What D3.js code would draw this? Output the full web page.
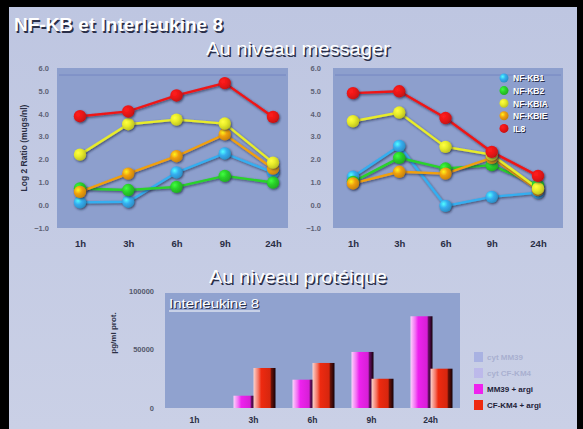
<!DOCTYPE html>
<html>
<head>
<meta charset="utf-8">
<script src="https://cdn.jsdelivr.net/npm/d3@7"></script>
<style>
  html, body { margin: 0; padding: 0; background: #000; }
  svg { display: block; }
  text { font-family: "Liberation Sans", Arial, sans-serif; }
</style>
</head>
<body>
<svg id="chart" width="583" height="429"></svg>
<script>
// ---- data ----
const hours = ["1h", "3h", "6h", "9h", "24h"];
const geneNames = ["NF-KB1", "NF-KB2", "NF-KBIA", "NF-KBIE", "IL8"];
const geneColors = ["#35aef0", "#2ad22a", "#e8ec2a", "#f0a010", "#ee1515"];
const logTicks = [-1, 0, 1, 2, 3, 4, 5, 6];

// left panel (log2 ratio)
const leftNFKB1  = [0.12, 0.15, 1.43, 2.26, 1.43];
const leftNFKB2  = [0.73, 0.66, 0.80, 1.28, 0.99];
const leftNFKBIA = [2.21, 3.54, 3.74, 3.57, 1.86];
const leftNFKBIE = [0.58, 1.38, 2.14, 3.10, 1.60];
const leftIL8    = [3.89, 4.10, 4.80, 5.34, 3.86];

// right panel (log2 ratio)
const rightNFKB1  = [1.24, 2.59, -0.03, 0.36, 0.55];
const rightNFKB2  = [1.02, 2.07, 1.60, 1.75, 0.87];
const rightNFKBIA = [3.67, 4.05, 2.55, 2.21, 0.73];
const rightNFKBIE = [0.95, 1.46, 1.38, 2.07, 0.66];
const rightIL8    = [4.90, 4.98, 3.81, 2.33, 1.28];

// protein level (pg/ml)
const barSeries = ["cyt MM39", "cyt CF-KM4", "MM39 + argi", "CF-KM4 + argi"];
const barColors = ["#8f9ae0", "#b3a8ee", "#ee22ee", "#ee2a10"];
const cytMM39   = [0, 0, 0, 0, 0];
const cytCFKM4  = [0, 0, 0, 0, 0];
const mm39Argi  = [0, 10500, 24200, 47900, 78400];
const cfkm4Argi = [0, 34200, 38500, 25000, 33600];
const proteinTicks = [0, 50000, 100000];

// ---- drawing ----
const svg = d3.select("#chart");
const defs = svg.append("defs");

// slide frame and background
svg.append("rect").attr("width", 583).attr("height", 429).attr("fill", "#000");
const bgGrad = defs.append("linearGradient").attr("id", "slideBg")
  .attr("x1", 0).attr("y1", 0).attr("x2", 0).attr("y2", 1);
bgGrad.append("stop").attr("offset", 0).attr("stop-color", "#bec6e1");
bgGrad.append("stop").attr("offset", 1).attr("stop-color", "#cad0e6");
svg.append("rect").attr("x", 9).attr("y", 7).attr("width", 568).attr("height", 422)
  .attr("fill", "url(#slideBg)");

// drop shadow for markers and lines
const shadow = defs.append("filter").attr("id", "shadow")
  .attr("x", "-50%").attr("y", "-50%").attr("width", "200%").attr("height", "200%");
shadow.append("feDropShadow").attr("dx", 1).attr("dy", 1.2).attr("stdDeviation", 0.8)
  .attr("flood-color", "#1a2040").attr("flood-opacity", 0.7);

// glossy marker gradients
geneColors.forEach((c, i) => {
  const g = defs.append("radialGradient").attr("id", "mk" + i)
    .attr("cx", "35%").attr("cy", "35%").attr("r", "70%");
  g.append("stop").attr("offset", 0).attr("stop-color", d3.color(c).brighter(1.2));
  g.append("stop").attr("offset", 0.45).attr("stop-color", c);
  g.append("stop").attr("offset", 1).attr("stop-color", d3.color(c).darker(0.6));
});

// white text with a dark drop shade
function shadedText(sel, x, y, str, opts) {
  const g = sel.append("g");
  const off = opts.off || 1.5;
  [["#2a2f48", off], ["#ffffff", 0]].forEach(([fill, o]) => {
    const t = g.append("text").attr("x", x + o).attr("y", y + o)
      .attr("fill", fill).attr("font-size", opts.size)
      .attr("font-weight", opts.weight || "bold")
      .attr("text-anchor", opts.anchor || "start").text(str);
    if (opts.len) t.attr("textLength", opts.len).attr("lengthAdjust", "spacingAndGlyphs");
  });
  return g;
}

shadedText(svg, 14, 31, "NF-KB et Interleukine 8", { size: 18, len: 209 });
shadedText(svg, 298, 55, "Au niveau messager", { size: 18, weight: "normal", anchor: "middle", len: 184 });
shadedText(svg, 298, 283, "Au niveau protéique", { size: 18, weight: "normal", anchor: "middle", len: 178 });

// line panels
function linePanel(cfg) {
  const y = d3.scaleLinear().domain([-1, 6]).range([228, 68]);
  const x = d3.scalePoint().domain(hours).range(cfg.xRange);

  svg.append("rect").attr("x", cfg.plot[0]).attr("y", 68)
    .attr("width", cfg.plot[1] - cfg.plot[0]).attr("height", 160)
    .attr("fill", "#8d9fcd");
  svg.append("line").attr("x1", cfg.plot[0] + 2).attr("x2", cfg.plot[1] - 2)
    .attr("y1", 75).attr("y2", 75).attr("stroke", "#7586c2").attr("stroke-width", 1);

  const yAxis = svg.append("g").attr("transform", `translate(${cfg.tickX},0)`)
    .call(d3.axisLeft(y).tickValues(logTicks).tickFormat(d3.format(".1f")).tickSize(0).tickPadding(0));
  yAxis.select(".domain").remove();
  yAxis.selectAll("text").attr("fill", "#5e6275").attr("font-size", 7.5)
    .attr("font-weight", "bold").style("font-family", "Liberation Sans, Arial");

  const xAxis = svg.append("g").attr("transform", "translate(0,240)")
    .call(d3.axisBottom(x).tickSize(0).tickPadding(0));
  xAxis.select(".domain").remove();
  xAxis.selectAll("text").attr("fill", "#2a2e44").attr("font-size", 9.5)
    .attr("font-weight", "bold").attr("dy", "0.71em")
    .style("font-family", "Liberation Sans, Arial");

  const line = d3.line().x((d, i) => x(hours[i])).y(d => y(d));
  const order = [0, 1, 3, 2, 4];
  order.forEach(k => {
    svg.append("path").datum(cfg.series[k]).attr("d", line).attr("fill", "none")
      .attr("stroke", geneColors[k]).attr("stroke-width", 2.4)
      .attr("filter", "url(#shadow)");
  });
  order.forEach(k => {
    svg.append("g").selectAll("circle").data(cfg.series[k]).join("circle")
      .attr("cx", (d, i) => x(hours[i])).attr("cy", d => y(d)).attr("r", 6.2)
      .attr("fill", `url(#mk${k})`).attr("filter", "url(#shadow)");
  });
}

linePanel({
  plot: [57, 288], xRange: [80, 273], tickX: 49,
  series: [leftNFKB1, leftNFKB2, leftNFKBIA, leftNFKBIE, leftIL8]
});
linePanel({
  plot: [333, 563], xRange: [353, 538], tickX: 321,
  series: [rightNFKB1, rightNFKB2, rightNFKBIA, rightNFKBIE, rightIL8]
});

// axis title of the left panel
svg.append("text").attr("transform", "translate(27,148) rotate(-90)")
  .attr("text-anchor", "middle").attr("font-size", 8.5).attr("font-weight", "bold")
  .attr("fill", "#2a2e44").text("Log 2 Ratio (mugs/nl)");

// legend of the line panels
geneNames.forEach((n, i) => {
  const yy = 78 + i * 12.6;
  svg.append("circle").attr("cx", 504).attr("cy", yy).attr("r", 4.5)
    .attr("fill", `url(#mk${i})`);
  shadedText(svg, 513, yy + 3.3, n, { size: 8.5, off: 1 });
});

// ---- protein bar chart ----
const barData = [cytMM39, cytCFKM4, mm39Argi, cfkm4Argi];
const xb = d3.scaleBand().domain(hours).range([165, 460]).padding(0);
const xs = d3.scaleBand().domain(barSeries).range([-60, 20]);
const yb = d3.scaleLinear().domain([0, 100000]).range([408, 291]);

svg.append("rect").attr("x", 165).attr("y", 293).attr("width", 295).attr("height", 115)
  .attr("fill", "#90a2cf");

barColors.forEach((c, i) => {
  const g = defs.append("linearGradient").attr("id", "bar" + i)
    .attr("x1", 0).attr("y1", 0).attr("x2", 1).attr("y2", 0);
  const base = d3.color(c);
  g.append("stop").attr("offset", 0).attr("stop-color", d3.interpolateRgb(c, "#fff")(0.8));
  g.append("stop").attr("offset", 0.22).attr("stop-color", d3.interpolateRgb(c, "#fff")(0.35));
  g.append("stop").attr("offset", 0.35).attr("stop-color", base);
  g.append("stop").attr("offset", 0.76).attr("stop-color", base.darker(0.3));
  g.append("stop").attr("offset", 0.8).attr("stop-color", base.darker(2.2));
  g.append("stop").attr("offset", 1).attr("stop-color", "#150008");
});

barData.forEach((vals, s) => {
  svg.append("g").selectAll("rect").data(vals).join("rect")
    .attr("x", (d, i) => xb(hours[i]) + xb.bandwidth() / 2 + xs(barSeries[s]))
    .attr("y", d => yb(d))
    .attr("width", xs.bandwidth() + 2)
    .attr("height", d => yb(0) - yb(d))
    .attr("fill", `url(#bar${s})`);
});

const ybAxis = svg.append("g").attr("transform", "translate(154,0)")
  .call(d3.axisLeft(yb).tickValues(proteinTicks).tickFormat(d3.format("d")).tickSize(0).tickPadding(0));
ybAxis.select(".domain").remove();
ybAxis.selectAll("text").attr("fill", "#55596c").attr("font-size", 7.5)
  .attr("font-weight", "bold").style("font-family", "Liberation Sans, Arial");

const xbAxis = svg.append("g").attr("transform", "translate(0,417)")
  .call(d3.axisBottom(xb).tickSize(0).tickPadding(0));
xbAxis.select(".domain").remove();
xbAxis.selectAll("text").attr("fill", "#2a2e44").attr("font-size", 8.5)
  .attr("font-weight", "bold").attr("dy", "0.71em")
  .style("font-family", "Liberation Sans, Arial");

svg.append("text").attr("transform", "translate(116,333) rotate(-90)")
  .attr("text-anchor", "middle").attr("font-size", 8).attr("font-weight", "bold")
  .attr("fill", "#2a2e44").text("pg/ml prot.");

// inset title
shadedText(svg, 169, 308, "Interleukine 8", { size: 12, weight: "normal", len: 90, off: 1.2 });
svg.append("line").attr("x1", 169).attr("x2", 260).attr("y1", 311).attr("y2", 311)
  .attr("stroke", "#ffffff").attr("stroke-width", 1);

// legend of the bar chart
barSeries.forEach((n, i) => {
  const yy = 357 + i * 16;
  const faint = i < 2;
  svg.append("rect").attr("x", 474).attr("y", yy - 5).attr("width", 9).attr("height", 10)
    .attr("fill", barColors[i]).attr("opacity", faint ? 0.55 : 1);
  svg.append("text").attr("x", 487).attr("y", yy + 3).attr("font-size", 8)
    .attr("font-weight", "bold").attr("fill", faint ? "#a9b0d0" : "#1e2238").text(n);
});
</script>
</body>
</html>
